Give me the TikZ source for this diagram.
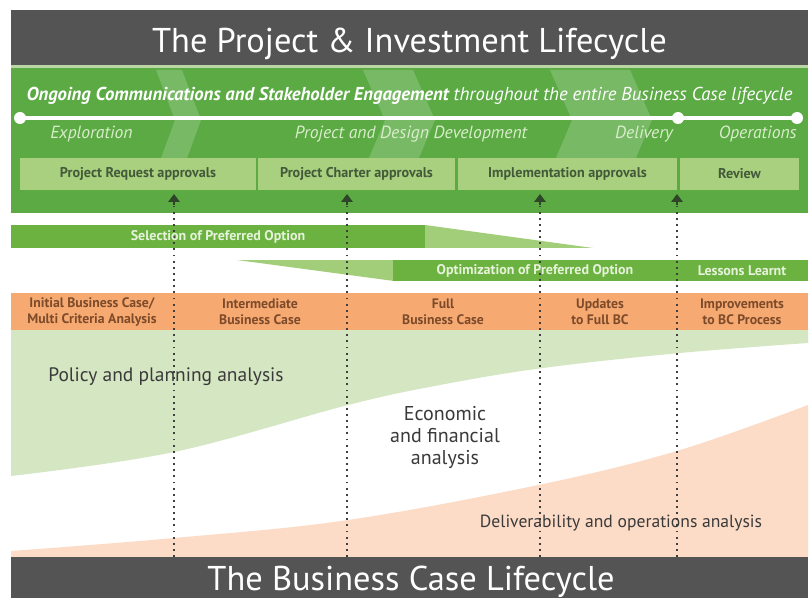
\documentclass[tikz,border=0pt]{standalone}
\usepackage{fontspec}
\setmainfont{PT Sans}
\usetikzlibrary{arrows.meta}
\definecolor{darkbar}{HTML}{545454}
\definecolor{mgreen}{HTML}{5BAA44}
\definecolor{sepline}{HTML}{B9D6A4}
\definecolor{boxgreen}{HTML}{A8D07E}
\definecolor{boxtext}{HTML}{43593A}
\definecolor{bargreen}{HTML}{6CB241}
\definecolor{wedgegreen}{HTML}{A3CE79}
\definecolor{bartext}{HTML}{E6F3DA}
\definecolor{phasetext}{HTML}{D9EDCB}
\definecolor{orng}{HTML}{F6AA72}
\definecolor{orngtext}{HTML}{7D4A2A}
\definecolor{lgreen}{HTML}{D5E6C3}
\definecolor{peach}{HTML}{FCDCC7}
\definecolor{anatext}{HTML}{3A3A3A}
\definecolor{arrowcol}{HTML}{2E4527}
\definecolor{dotcol}{HTML}{3F3F3F}
\tikzset{
  titletext/.style={text=white, font=\fontsize{25.8}{30}\selectfont, inner sep=0pt},
  boxlab/.style={fill=boxgreen, text=boxtext, font=\fontsize{10.6}{12}\selectfont\bfseries, minimum height=24pt, inner sep=0pt},
  barlab/.style={text=bartext, font=\fontsize{10.5}{12}\selectfont\bfseries, inner sep=0pt},
  orlab/.style={text=orngtext, font=\fontsize{10.3}{12}\selectfont\bfseries, align=center, inner sep=0pt},
  analysis/.style={text=anatext, font=\fontsize{14.6}{16.5}\selectfont, align=center, inner sep=0pt},
  phaselab/.style={text=phasetext, font=\fontsize{13.2}{15}\selectfont\itshape, inner sep=0pt},
  tldot/.style={circle, fill=white, minimum size=9pt, inner sep=0pt},
  dotline/.style={dotcol, line width=1.4pt, dash pattern=on 1.4pt off 3.2pt},
  uparrow/.style={arrowcol, line width=2pt, -{Triangle[width=8.5pt,length=6pt]}},
  chev/.style={white, opacity=0.18}
}
\begin{document}
\begin{tikzpicture}[x=0.75pt,y=-0.75pt]
\path[use as bounding box] (0,0) rectangle (812,598);
\fill[white] (0,0) rectangle (812,598);
% top bar
\fill[darkbar] (11,10) rectangle (808,65);
\node[titletext, anchor=base] (title) at (409.5,53) {The Project \& Investment Lifecycle};
% green block
\fill[sepline] (11,65) rectangle (808,68);
\fill[mgreen] (11,68) rectangle (808,213);
% chevrons
\fill[chev] (156,70) -- (182,70) -- (201,120) -- (182,172) -- (156,172) -- (175,120) -- cycle;
\fill[chev] (363,70) -- (413,70) -- (435,120) -- (413,172) -- (363,172) -- (385,120) -- cycle;
\fill[chev] (550,70) -- (630,70) -- (652,120) -- (630,172) -- (550,172) -- (572,120) -- cycle;
% headline
\node[text=white, font=\fontsize{14}{16}\selectfont\itshape, inner sep=0pt] (headline) at (409.5,96)
  {\textbf{Ongoing Communications and Stakeholder Engagement} throughout the entire Business Case lifecycle};
% timeline
\node[tldot] (t1) at (20,118) {};
\node[tldot] (t2) at (678,118) {};
\node[tldot] (t3) at (797,118) {};
\draw[white, line width=2.4pt] (t1.center) -- (t2.center) -- (t3.center);
% phase labels
\node[phaselab, anchor=west] (ph1) at (50,134) {Exploration};
\node[phaselab] (ph2) at (411,134) {Project and Design Development};
\node[phaselab, anchor=east] (ph3) at (673,134) {Delivery};
\node[phaselab, anchor=east] (ph4) at (797,134) {Operations};
% approval boxes
\node[boxlab, minimum width=177pt] (b1) at (138,174) {Project Request approvals};
\node[boxlab, minimum width=147.75pt] (b2) at (356.5,174) {Project Charter approvals};
\node[boxlab, minimum width=164.25pt] (b3) at (567.5,174) {Implementation approvals};
\node[boxlab, minimum width=89.25pt] (b4) at (739.5,174) {Review};
% selection bar
\fill[bargreen] (11,225) rectangle (426,248);
\fill[wedgegreen] (425,225) -- (593,248) -- (425,248) -- cycle;
% optimization bar
\fill[wedgegreen] (237,260) -- (394,260) -- (394,281) -- cycle;
\fill[bargreen] (393,260) rectangle (808,281);
% orange row
\fill[orng] (11,293) rectangle (808,330);
% analysis regions
\fill[lgreen] (11,330) -- (808,330) -- (808,343)
  -- plot[smooth, tension=0.6] coordinates {(808,343) (680,353) (543,368) (440,385) (348,405) (174,452) (11,476)} -- cycle;
\fill[peach] (11,557) -- (808,557) -- (808,405)
  -- plot[smooth, tension=0.6] coordinates {(808,405) (680,450) (543,484) (348,520) (174,538) (11,551)} -- cycle;
% dotted connectors with arrowheads
\foreach \n/\x in {1/174,2/347,3/540,4/677}{
  \coordinate (bot\n) at (\x,557);
  \coordinate (mid\n) at (\x,205);
  \coordinate (tip\n) at (\x,194);
  \draw[dotline] (bot\n) -- (mid\n);
  \draw[uparrow] (mid\n) -- (tip\n);
}
% bar labels
\node[barlab] (sel) at (218,237) {Selection of Preferred Option};
\node[barlab] (opt) at (535,271) {Optimization of Preferred Option};
\node[barlab] (les) at (742,271) {Lessons Learnt};
% orange labels
\node[orlab] (o1) at (92,312) {Initial Business Case/\\Multi Criteria Analysis};
\node[orlab] (o2) at (260,312) {Intermediate\\Business Case};
\node[orlab] (o3) at (443,312) {Full\\Business Case};
\node[orlab] (o4) at (600,312) {Updates\\to Full BC};
\node[orlab] (o5) at (742,312) {Improvements\\to BC Process};
% analysis labels
\node[analysis] (pol) at (166,377) {Policy and planning analysis};
\node[analysis, font=\fontsize{15}{16.5}\selectfont] (eco) at (445,437) {Economic\\and financial\\analysis};
\node[analysis, font=\fontsize{13.2}{15}\selectfont] (del) at (621,523) {Deliverability and operations analysis};
% bottom bar
\fill[darkbar] (11,557) rectangle (808,598);
\node[titletext, anchor=base] (btitle) at (411,590) {The Business Case Lifecycle};
\end{tikzpicture}
\end{document}
